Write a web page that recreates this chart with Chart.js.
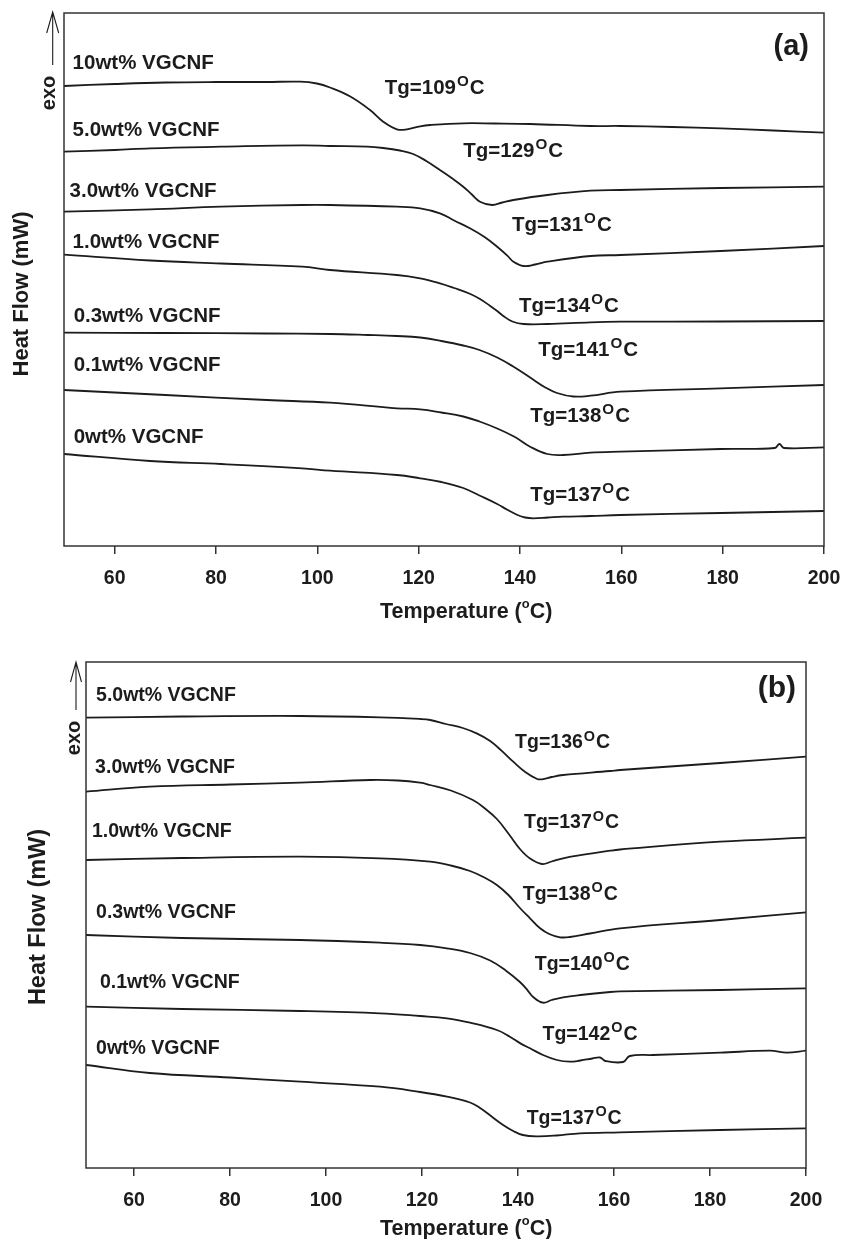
<!DOCTYPE html>
<html>
<head>
<meta charset="utf-8">
<script src="https://cdn.jsdelivr.net/npm/chart.js@4/dist/chart.umd.min.js"></script>
<style>
  body { margin: 0; background: #fff; }
  #wrap { position: relative; width: 842px; height: 1239px; }
  canvas { position: absolute; left: 0; }
</style>
</head>
<body>
<div id="wrap">
  <canvas id="chartA" style="top:0;width:842px;height:640px" width="842" height="640"></canvas>
  <canvas id="chartB" style="top:620px;width:842px;height:619px" width="842" height="619"></canvas>
</div>
<script>
// x ticks (temperature, °C)
const tickVals = [60, 80, 100, 120, 140, 160, 180, 200];

// ---- panel (a) ----
const namesA = ['10wt% VGCNF', '5.0wt% VGCNF', '3.0wt% VGCNF', '1.0wt% VGCNF', '0.3wt% VGCNF', '0.1wt% VGCNF', '0wt% VGCNF'];
const tgA = [109, 129, 131, 134, 141, 138, 137];

const a10T = [50, 60, 70, 80, 90, 96.6, 99.9, 102.5, 106.5, 110.4, 113.0, 115.7, 117.7, 120.3, 122.3, 128.8, 135, 142, 153.9, 159.8, 170, 179.6, 190, 200];
const a10Y = [46.0, 46.2, 46.35, 46.4, 46.4, 46.43, 46.25, 45.85, 44.95, 43.6, 42.43, 41.67, 41.67, 41.97, 42.1, 42.27, 42.25, 42.2, 42.0, 42.0, 41.9, 41.77, 41.55, 41.33];
const a5T = [50, 60, 67, 81, 97, 102.5, 109.8, 113, 116.3, 118.9, 121.5, 124.2, 126.5, 128.8, 130.5, 132.1, 134.5, 136.5, 138.7, 145.4, 153.9, 159.8, 179.6, 200];
const a5Y = [39.43, 39.6, 39.77, 39.93, 40.07, 40.0, 39.93, 39.8, 39.55, 39.2, 38.5, 37.6, 36.8, 35.93, 35.15, 34.43, 34.1, 34.35, 34.6, 35.1, 35.53, 35.6, 35.8, 35.93];
const a3T = [50, 67, 81, 97, 102.5, 115.7, 120.3, 124.2, 127, 130.2, 133, 135.5, 137.5, 138.7, 140.7, 143, 145.4, 153.9, 159.8, 179.6, 200];
const a3Y = [33.43, 33.67, 33.93, 34.1, 34.1, 33.93, 33.77, 33.27, 32.55, 31.75, 30.9, 29.93, 29.04, 28.43, 28.0, 28.15, 28.43, 29.0, 29.1, 29.5, 30.0];
const a1T = [50, 67, 81, 97, 102.5, 115.7, 120.3, 124.2, 127, 130.2, 132.1, 134, 135.5, 136.7, 138.5, 140.7, 145.4, 153.9, 159.8, 179.6, 200];
const a1Y = [29.13, 28.55, 28.25, 27.93, 27.6, 27.1, 26.77, 26.27, 25.8, 25.2, 24.7, 24.05, 23.5, 23.0, 22.45, 22.2, 22.2, 22.37, 22.43, 22.45, 22.5];
const a03T = [50, 70, 90, 102.5, 110, 115.7, 120.3, 124.5, 128.8, 132, 135.5, 138.5, 142, 145, 147.3, 150.5, 153.9, 159.8, 179.6, 200];
const a03Y = [21.33, 21.3, 21.25, 21.2, 21.1, 21.0, 20.85, 20.5, 20.05, 19.6, 18.85, 18.0, 16.85, 15.85, 15.3, 14.95, 15.03, 15.43, 15.77, 16.1];
const a01T = [50, 70, 90, 102.5, 115.7, 120.3, 124.5, 128.8, 132, 135.5, 139, 142, 145.4, 148.5, 153.9, 159.8, 179.6, 190.3, 191.2, 192.1, 200];
const a01Y = [15.6, 15.1, 14.6, 14.33, 13.77, 13.67, 13.35, 12.95, 12.45, 11.75, 10.9, 9.93, 9.2, 9.1, 9.33, 9.43, 9.7, 9.8, 10.2, 9.8, 9.87];
const a0T = [50, 67, 81, 97, 102.5, 115.7, 120.3, 124.5, 128.8, 132, 135.5, 137.5, 139.5, 141, 142.6, 145.5, 148.5, 153.9, 159.8, 179.6, 200];
const a0Y = [9.2, 8.5, 8.2, 7.77, 7.53, 7.1, 6.77, 6.4, 5.8, 5.05, 4.2, 3.62, 3.1, 2.85, 2.77, 2.85, 2.93, 3.0, 3.1, 3.3, 3.5];

// ---- panel (b) ----
const namesB = ['5.0wt% VGCNF', '3.0wt% VGCNF', '1.0wt% VGCNF', '0.3wt% VGCNF', '0.1wt% VGCNF', '0wt% VGCNF'];
const tgB = [136, 137, 138, 140, 142, 137];

const b5T = [50, 70, 94.6, 111.25, 119.6, 121.7, 125, 128.5, 131.5, 134.2, 136.5, 139, 141.5, 144, 145, 147, 149.4, 159.2, 161.25, 182.1, 200];
const b5Y = [45.03, 45.15, 45.2, 45.07, 44.9, 44.8, 44.4, 44.0, 43.44, 42.7, 41.76, 40.63, 39.6, 38.9, 38.87, 39.1, 39.3, 39.7, 39.8, 40.5, 41.13];
const b3T = [50, 63.3, 80, 94.6, 109.2, 115, 119.6, 121.7, 126, 130.6, 133, 135.6, 138, 140.4, 142.5, 145, 147, 149.4, 153, 159.2, 161.25, 182.1, 200];
const b3Y = [37.63, 38.13, 38.35, 38.53, 38.8, 38.75, 38.53, 38.3, 37.75, 36.8, 36.0, 34.9, 33.45, 31.9, 30.95, 30.4, 30.65, 30.97, 31.28, 31.73, 31.85, 32.63, 33.03];
const b1T = [50, 70, 94.6, 111.25, 121.7, 126, 130, 133, 135.6, 138, 140.4, 142.5, 144.6, 146.5, 148.75, 150.8, 155, 161.25, 182.1, 200];
const b1Y = [30.8, 31.0, 31.13, 30.97, 30.63, 30.25, 29.7, 29.05, 28.3, 27.3, 26.0, 24.97, 23.97, 23.4, 23.07, 23.1, 23.45, 23.97, 24.8, 25.57];
const b03T = [50, 70, 94.6, 111.25, 119.6, 125.2, 130, 134.2, 137.5, 140.4, 142, 143.1, 145.2, 147, 149.4, 153, 159.2, 161.25, 182.1, 200];
const b03Y = [23.3, 23.0, 22.8, 22.53, 22.3, 21.97, 21.5, 20.75, 19.73, 18.6, 17.77, 17.13, 16.53, 16.8, 17.07, 17.3, 17.6, 17.66, 17.8, 17.97];
const b01T = [50, 70, 94.6, 111.25, 119.6, 125.2, 130, 135.6, 138.3, 140.5, 142.5, 145.2, 148.1, 150.8, 153, 155.5, 157.1, 158.2, 161.9, 163.3, 168.1, 182.1, 192.5, 196, 200];
const b01Y = [16.13, 15.9, 15.7, 15.47, 15.2, 14.97, 14.53, 13.8, 13.13, 12.46, 11.97, 11.3, 10.8, 10.63, 10.75, 10.95, 11.05, 10.7, 10.6, 11.2, 11.3, 11.53, 11.73, 11.53, 11.73];
const b0T = [50, 63.3, 80, 94.6, 111.25, 119.6, 125.2, 130, 132.1, 134.5, 136.9, 139, 141, 144, 148, 152.9, 161.25, 182.1, 200];
const b0Y = [10.3, 9.5, 9.05, 8.63, 8.13, 7.6, 7.13, 6.55, 6.0, 5.15, 4.3, 3.7, 3.3, 3.17, 3.25, 3.47, 3.57, 3.8, 3.97];

const FONT = '"Liberation Sans", Arial, Helvetica, sans-serif';
const INK = '#1c1c1c';

function toPts(T, Y) {
  return T.map((t, i) => ({ x: t, y: Y[i] }));
}

function lineSet(T, Y) {
  return {
    data: toPts(T, Y),
    borderColor: INK,
    borderWidth: 1.8,
    pointRadius: 0,
    tension: 0.4,
    fill: false
  };
}

function tgLabel(ctx, x, y, num, size) {
  ctx.font = `bold ${size}px ${FONT}`;
  const head = 'Tg=' + num;
  ctx.fillText(head, x, y);
  let w = ctx.measureText(head).width + 1;
  ctx.font = `bold ${size * 0.74}px ${FONT}`;
  ctx.fillText('O', x + w, y - size * 0.39);
  w += ctx.measureText('O').width + 1;
  ctx.font = `bold ${size}px ${FONT}`;
  ctx.fillText('C', x + w, y);
}

// draws frame, curve labels, axis titles, exo arrow
const decor = {
  id: 'decor',
  afterDraw(chart) {
    const o = chart.options.plugins.decor;
    const { ctx, chartArea: a } = chart;
    const xs = chart.scales.x, ys = chart.scales.y;
    ctx.save();
    ctx.strokeStyle = '#333';
    ctx.lineWidth = 1.5;
    ctx.strokeRect(a.left, a.top, a.right - a.left, a.bottom - a.top);

    ctx.fillStyle = INK;
    ctx.textAlign = 'left';
    ctx.textBaseline = 'alphabetic';
    ctx.font = `bold ${o.size}px ${FONT}`;
    o.names.forEach((n, i) => {
      const p = o.namePos[i];
      ctx.fillText(n, xs.getPixelForValue(p[0]), ys.getPixelForValue(p[1]));
    });
    o.tg.forEach((t, i) => {
      const p = o.tgPos[i];
      tgLabel(ctx, xs.getPixelForValue(p[0]), ys.getPixelForValue(p[1]), t, o.size);
    });

    // panel letter
    ctx.font = `bold ${o.letterSize}px ${FONT}`;
    ctx.textAlign = 'right';
    ctx.fillText(o.letter, o.letterAt[0], o.letterAt[1]);

    // x title with small superscript o
    ctx.textAlign = 'left';
    ctx.font = `bold ${o.titleSize}px ${FONT}`;
    let [tx, ty] = o.xTitleAt;
    ctx.fillText('Temperature (', tx, ty);
    tx += ctx.measureText('Temperature (').width;
    ctx.font = `bold ${o.titleSize * 0.6}px ${FONT}`;
    ctx.fillText('o', tx, ty - o.titleSize * 0.45);
    tx += ctx.measureText('o').width;
    ctx.font = `bold ${o.titleSize}px ${FONT}`;
    ctx.fillText('C)', tx, ty);

    // y title
    ctx.save();
    ctx.translate(o.yTitleAt[0], o.yTitleAt[1]);
    ctx.rotate(-Math.PI / 2);
    ctx.textAlign = 'center';
    ctx.textBaseline = 'middle';
    ctx.font = `bold ${o.yTitleSize}px ${FONT}`;
    ctx.fillText('Heat Flow (mW)', 0, 0);
    ctx.restore();

    // exo arrow
    const ar = o.arrow;
    ctx.strokeStyle = INK;
    ctx.lineWidth = 1.1;
    ctx.beginPath();
    ctx.moveTo(ar.x, ar.y1);
    ctx.lineTo(ar.x, ar.y0);
    ctx.moveTo(ar.x - ar.hw, ar.y0 + ar.hl);
    ctx.lineTo(ar.x, ar.y0);
    ctx.lineTo(ar.x + ar.hw, ar.y0 + ar.hl);
    ctx.stroke();
    ctx.save();
    ctx.translate(o.exoAt[0], o.exoAt[1]);
    ctx.rotate(-Math.PI / 2);
    ctx.textAlign = 'center';
    ctx.textBaseline = 'alphabetic';
    ctx.font = `bold ${o.exoSize}px ${FONT}`;
    ctx.fillText('exo', 0, 0);
    ctx.restore();

    ctx.restore();
  }
};

function makeChart(id, sets, yMax, pad, axisH, decorOpts) {
  return new Chart(document.getElementById(id), {
    type: 'line',
    data: { datasets: sets },
    plugins: [decor],
    options: {
      responsive: false,
      animation: false,
      layout: { padding: pad },
      plugins: { legend: { display: false }, tooltip: { enabled: false }, decor: decorOpts },
      scales: {
        x: {
          type: 'linear',
          min: 50,
          max: 200,
          afterBuildTicks: s => { s.ticks = tickVals.map(v => ({ value: v })); },
          afterFit: s => { s.height = axisH; s.paddingLeft = 0; s.paddingRight = 0; },
          border: { display: false },
          grid: { display: true, drawOnChartArea: false, drawTicks: true, tickLength: 8, color: '#333', lineWidth: 1.5 },
          ticks: { color: INK, padding: 13, font: { family: FONT, size: 19.5, weight: 'bold' } }
        },
        y: { type: 'linear', display: false, min: 0, max: yMax }
      }
    }
  });
}

makeChart('chartA', [
  lineSet(a10T, a10Y), lineSet(a5T, a5Y), lineSet(a3T, a3Y), lineSet(a1T, a1Y),
  lineSet(a03T, a03Y), lineSet(a01T, a01Y), lineSet(a0T, a0Y)
], 53.3, { left: 64, right: 18, top: 13, bottom: 0 }, 94, {
  names: namesA,
  namePos: [[51.7, 47.7], [51.7, 41.0], [51.1, 34.93], [51.7, 29.8], [51.9, 22.43], [51.9, 17.53], [51.9, 10.33]],
  tg: tgA,
  tgPos: [[113.3, 45.2], [128.8, 38.9], [138.4, 31.5], [139.8, 23.43], [143.6, 19.0], [142.0, 12.43], [142.0, 4.53]],
  size: 20.5,
  letter: '(a)', letterAt: [809, 55], letterSize: 29,
  xTitleAt: [380, 618], titleSize: 21.5,
  yTitleAt: [22, 294], yTitleSize: 22,
  arrow: { x: 52.7, y0: 12, y1: 65, hw: 6, hl: 21 },
  exoAt: [55, 93], exoSize: 20
});

makeChart('chartB', [
  lineSet(b5T, b5Y), lineSet(b3T, b3Y), lineSet(b1T, b1Y),
  lineSet(b03T, b03Y), lineSet(b01T, b01Y), lineSet(b0T, b0Y)
], 50.6, { left: 86, right: 36, top: 42, bottom: 0 }, 71, {
  names: namesB,
  namePos: [[52.1, 46.73], [51.9, 39.47], [51.25, 33.13], [52.1, 24.97], [52.9, 17.97], [52.1, 11.37]],
  tg: tgB,
  tgPos: [[139.4, 41.97], [141.25, 33.97], [141.0, 26.8], [143.5, 19.8], [145.1, 12.8], [141.8, 4.4]],
  size: 19.5,
  letter: '(b)', letterAt: [796, 77], letterSize: 30,
  xTitleAt: [380, 615], titleSize: 21.5,
  yTitleAt: [39, 297], yTitleSize: 23.5,
  arrow: { x: 76, y0: 42, y1: 90, hw: 5.5, hl: 20 },
  exoAt: [80, 118], exoSize: 20
});
</script>
</body>
</html>
